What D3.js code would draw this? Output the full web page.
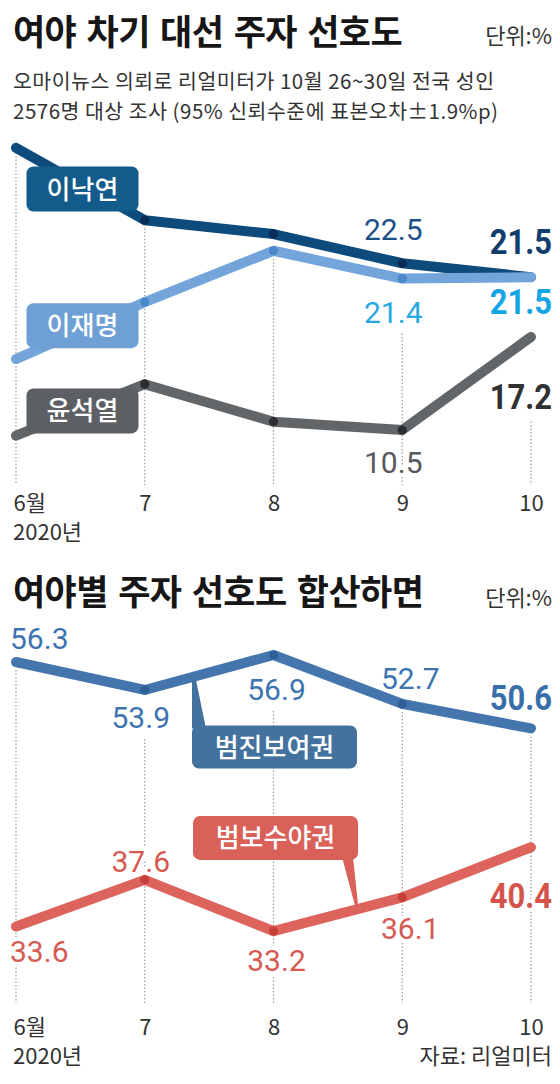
<!DOCTYPE html>
<html>
<head>
<meta charset="utf-8">
<script src="https://cdn.jsdelivr.net/npm/d3@7"></script>
<style>
  body { margin: 0; background: #fff; }
  svg { display: block; }
</style>
</head>
<body>
<svg id="canvas" width="560" height="1084"></svg>
<script>
// data
let months = ['6월', '7', '8', '9', '10']
let leeNakyeon = [30.8, 25.6, 24.6, 22.5, 21.5]
let leeJaemyung = [15.6, 19.7, 23.4, 21.4, 21.5]
let yoonSeokyoul = [10.1, 13.8, 11.1, 10.5, 17.2]
let progressive = [56.3, 53.9, 56.9, 52.7, 50.6]
let conservative = [33.6, 37.6, 33.2, 36.1, 40.4]

let KR = "'Noto Sans CJK KR', 'Noto Sans', sans-serif"
let NUM = "Roboto, 'Noto Sans', sans-serif"

let svg = d3.select('#canvas')
svg.append('rect').attr('width', 560).attr('height', 1084).attr('fill', '#fff')

let x = d3.scaleLinear().domain([0, 4]).range([16, 531])
let yTop = d3.scaleLinear().domain([10, 30]).range([437, 159])
let yBot = d3.scaleLinear().domain([30, 60]).range([968.4, 618.9])
let fmt = d3.format('.1f')

// ---------- titles ----------
let title = (txt, y) => svg.append('text').text(txt)
  .attr('x', 13).attr('y', y)
  .style('font-family', KR).style('font-weight', 700)
  .style('font-size', '35px').style('letter-spacing', '-0.6px')
  .style('word-spacing', '3px').attr('fill', '#161616')
let unit = (y) => svg.append('text').text('단위:%')
  .attr('x', 552).attr('y', y).attr('text-anchor', 'end')
  .style('font-family', KR).style('font-size', '22px').attr('fill', '#333')

title('여야 차기 대선 주자 선호도', 45)
unit(44)
let sub = (txt, y) => svg.append('text').text(txt)
  .attr('x', 13).attr('y', y)
  .style('font-family', KR).style('font-size', '20.5px')
  .style('letter-spacing', '0.5px').attr('fill', '#333')
sub('오마이뉴스 의뢰로 리얼미터가 10월 26~30일 전국 성인', 89)
sub('2576명 대상 조사 (95% 신뢰수준에 표본오차±1.9%p)', 119)

title('여야별 주자 선호도 합산하면', 605)
unit(606)

// ---------- one panel ----------
let drawPanel = (p) => {
  let g = svg.append('g')
  let gridG = g.append('g')
  let haloG = g.append('g')
  let lineG = g.append('g')
  let pillG = g.append('g')
  let labelG = g.append('g')

  let line = d3.line().x((d, i) => x(i)).y(d => p.y(d))

  // value labels (halo copy first so dotted lines get knocked out)
  let boxes = {}
  p.labels.forEach(l => {
    let s = p.series[l.s]
    let v = s.values[l.i]
    let px = l.end ? 552 : x(l.i) + (l.dx || 0)
    let py = p.y(v) + l.dy
    let anchor = l.end ? 'end' : (l.start ? 'start' : 'middle')
    let make = (sel) => {
      // bold figures are drawn narrower, like the condensed face of the original
      let t = sel.append('text').text(fmt(v))
        .attr('x', 0).attr('y', 0).attr('text-anchor', anchor)
        .attr('transform', 'translate(' + px + ',' + py + ')' + (l.bold ? ' scale(0.86,1)' : ''))
        .style('font-family', NUM)
        .style('font-size', l.bold ? '36px' : '30px')
        .style('font-weight', l.bold ? 700 : 400)
      return t
    }
    make(haloG).attr('fill', '#fff').attr('stroke', '#fff').attr('stroke-width', 8)
    let t = make(labelG).attr('fill', l.color)
    let b = t.node().getBBox()
    boxes[l.s + ':' + l.i] = { bottom: py + b.y + b.height }
  })

  // dotted month guides
  months.forEach((m, i) => {
    let from = p.gridFrom[i]
    let top = from.type === 'label'
      ? boxes[from.s + ':' + i].bottom + 4
      : p.y(p.series[from.s].values[i]) + 8
    gridG.append('line')
      .attr('x1', x(i)).attr('x2', x(i))
      .attr('y1', top).attr('y2', p.gridBottom)
      .attr('stroke', '#9a9a9a').attr('stroke-width', 1.2)
      .attr('stroke-dasharray', '1.5,2')
  })

  // lines and dots
  p.series.forEach(s => {
    lineG.append('path')
      .datum(s.values)
      .attr('d', line)
      .attr('fill', 'none')
      .attr('stroke', s.line)
      .attr('stroke-width', 10)
      .attr('stroke-linecap', 'round')
      .attr('stroke-linejoin', 'round')
    lineG.selectAll(null)
      .data(s.values.slice(1, 4))
      .enter()
      .append('circle')
      .attr('cx', (d, i) => x(i + 1))
      .attr('cy', d => p.y(d))
      .attr('r', 4.6)
      .attr('fill', s.dot)
  })

  // name pills
  p.pills.forEach(pl => {
    let s = p.series[pl.s]
    let cx = pl.cx, cy = pl.cy
    let w = pl.w, h = pl.h
    if (pl.tail) {
      pillG.append('path')
        .attr('d', d3.line()(pl.tail(cx - w / 2, cy - h / 2, w, h)))
        .attr('fill', s.pill)
    }
    pillG.append('rect')
      .attr('x', cx - w / 2).attr('y', cy - h / 2)
      .attr('width', w).attr('height', h)
      .attr('rx', 7)
      .attr('fill', s.pill)
    pillG.append('text').text(s.name)
      .attr('x', cx).attr('y', cy + 9.5)
      .attr('text-anchor', 'middle')
      .style('font-family', KR).style('font-size', '26px').style('font-weight', 500)
      .attr('fill', '#fff')
  })

  // month axis
  let axis = d3.axisBottom(x)
    .tickValues(d3.range(months.length))
    .tickFormat(i => months[i])
    .tickSize(0)
  let ax = g.append('g')
    .attr('transform', 'translate(0,' + p.axisY + ')')
    .call(axis)
  ax.select('.domain').remove()
  ax.selectAll('text')
    .attr('y', 0).attr('dy', 0)
    .style('font-family', KR).style('font-size', '22px').attr('fill', '#333')
  ax.selectAll('.tick').filter(i => i === 0).select('text')
    .attr('text-anchor', 'start').attr('x', -3)
  svg.append('text').text('2020년')
    .attr('x', 13).attr('y', p.axisY + 29)
    .style('font-family', KR).style('font-size', '22px').attr('fill', '#333')
}

// ---------- top panel: candidates ----------
let topSeries = [
  { name: '이낙연', values: leeNakyeon, line: '#0d4b7c', dot: '#0a2b56', pill: '#125b8b' },
  { name: '이재명', values: leeJaemyung, line: '#73a5da', dot: '#4a88cb', pill: '#6ea0d6' },
  { name: '윤석열', values: yoonSeokyoul, line: '#636669', dot: '#2b2d30', pill: '#5c5f63' }
]
let midFirst = (vals, sc) => (sc(vals[0]) + sc(vals[1])) / 2

drawPanel({
  series: topSeries,
  y: yTop,
  labels: [
    { s: 0, i: 3, dx: -9, dy: -23, color: '#1c5088' },
    { s: 0, i: 4, end: true, dy: -23, bold: true, color: '#0f3d6c' },
    { s: 1, i: 3, dx: -9, dy: 44, color: '#27a8e0' },
    { s: 1, i: 4, end: true, dy: 37, bold: true, color: '#14a6e4' },
    { s: 2, i: 3, dx: -9, dy: 43, color: '#58595b' },
    { s: 2, i: 4, end: true, dy: 72, bold: true, color: '#303133' }
  ],
  gridFrom: [
    { s: 0 }, { s: 0 }, { s: 1 }, { s: 1, type: 'label' }, { s: 2, type: 'label' }
  ],
  gridBottom: 485,
  pills: [
    { s: 0, cx: 82.5, cy: midFirst(leeNakyeon, yTop) + 5, w: 112, h: 45 },
    { s: 1, cx: 82.5, cy: midFirst(leeJaemyung, yTop) - 5, w: 112, h: 45 },
    { s: 2, cx: 82.5, cy: midFirst(yoonSeokyoul, yTop) + 1, w: 112, h: 45 }
  ],
  axisY: 511
})

// ---------- bottom panel: camps ----------
let botSeries = [
  { name: '범진보여권', values: progressive, line: '#4476ad', dot: '#2f5f96', pill: '#44729f' },
  { name: '범보수야권', values: conservative, line: '#dc645c', dot: '#c73f39', pill: '#d9615a' }
]
// point on a series between two months (for the callout tails)
let along = (vals, t) => {
  let i = Math.floor(t), f = t - i
  return [x(t), yBot(vals[i] + (vals[i + 1] - vals[i]) * f)]
}

drawPanel({
  series: botSeries,
  y: yBot,
  labels: [
    { s: 0, i: 0, start: true, dx: -6, dy: -13, color: '#3c74b0' },
    { s: 0, i: 1, dx: -4, dy: 38, color: '#3c74b0' },
    { s: 0, i: 2, dx: 3, dy: 45, color: '#3c74b0' },
    { s: 0, i: 3, dx: 8, dy: -15, color: '#3c74b0' },
    { s: 0, i: 4, end: true, dy: -18, bold: true, color: '#386fa9' },
    { s: 1, i: 0, start: true, dx: -6, dy: 36, color: '#d65a52' },
    { s: 1, i: 1, dx: -4, dy: -8, color: '#d65a52' },
    { s: 1, i: 2, dx: 3, dy: 40, color: '#d65a52' },
    { s: 1, i: 3, dx: 8, dy: 42, color: '#d65a52' },
    { s: 1, i: 4, end: true, dy: 61, bold: true, color: '#d4544c' }
  ],
  gridFrom: [
    { s: 0 }, { s: 0, type: 'label' }, { s: 0, type: 'label' }, { s: 0 }, { s: 0 }
  ],
  gridBottom: 1003,
  pills: [
    {
      s: 0, cx: x(2) + 1, cy: yBot(49), w: 165, h: 43,
      tail: (l, t, w, h) => {
        let a = along(progressive, 1.37)
        return [[l, a[1] + 3], [l + 4, a[1] + 3], [l + 14, t + 3], [l, t + 3]]
      }
    },
    {
      s: 1, cx: x(2) + 2, cy: yBot(41.2), w: 165, h: 44,
      tail: (l, t, w, h) => {
        let a = along(conservative, 2.65)
        return [[l + w - 16, t + h - 3], [l + w - 5, t + h - 3], [a[0] + 1, a[1] - 3], [a[0] - 2, a[1] - 3]]
      }
    }
  ],
  axisY: 1035
})

svg.append('text').text('자료: 리얼미터')
  .attr('x', 552).attr('y', 1064).attr('text-anchor', 'end')
  .style('font-family', KR).style('font-size', '22px').attr('fill', '#333')
</script>
</body>
</html>
